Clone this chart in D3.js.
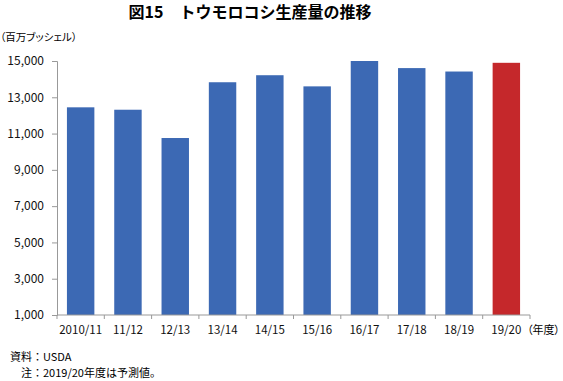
<!DOCTYPE html>
<html><head><meta charset="utf-8">
<script src="https://cdn.jsdelivr.net/npm/d3@7"></script>
<style>body{margin:0;background:#fff}svg{display:block}text{font-family:"Noto Sans CJK JP","Noto Sans",sans-serif}.p{font-feature-settings:"palt" 1}</style>
</head><body><div id="chart"></div>
<script>
const categories = ["2010/11","11/12","12/13","13/14","14/15","15/16","16/17","17/18","18/19","19/20"];
const values = [12447, 12314, 10755, 13829, 14216, 13602, 15148, 14609, 14420, 14900];
const forecast = [false,false,false,false,false,false,false,false,false,true];
const yTicks = [1000,3000,5000,7000,9000,11000,13000,15000];

const W=563,H=381;
const m={left:57,right:33,top:61,bottom:66};
const svg=d3.select("#chart").append("svg").attr("width",W).attr("height",H);
const x=d3.scaleBand().domain(categories).range([m.left,W-m.right]).paddingInner(0.42).paddingOuter(0.21);
const y=d3.scaleLinear().domain([1000,15000]).range([H-m.bottom,m.top]).clamp(true);

svg.append("text").attr("x",250).attr("y",18).attr("text-anchor","middle")
  .attr("font-size",16).attr("font-weight","bold").text("図15　トウモロコシ生産量の推移");
svg.append("text").attr("class","p").attr("x",0).attr("y",41).attr("font-size",10.5).text("（百万ブッシェル）");

svg.selectAll("rect.bar").data(categories).join("rect").attr("class","bar")
  .attr("x",d=>x(d)).attr("width",x.bandwidth())
  .attr("y",(d,i)=>y(values[i])).attr("height",(d,i)=>y(1000)-y(values[i]))
  .attr("fill",(d,i)=>forecast[i]?"#c5282b":"#3c69b4");

const ya=svg.append("g").attr("transform",`translate(${m.left},0)`)
  .call(d3.axisLeft(y).tickValues(yTicks).tickFormat(d3.format(",")).tickSize(5).tickPadding(8));
ya.selectAll("text").attr("font-size",12).attr("fill","#111");
ya.selectAll("line,path").attr("stroke","#999");

const xa=svg.append("g").attr("transform",`translate(0,${H-m.bottom})`);
xa.append("line").attr("x1",m.left).attr("x2",W-m.right).attr("stroke","#999");
const edges=d3.range(categories.length+1).map(i=>m.left+(W-m.left-m.right)*i/categories.length);
xa.selectAll("line.t").data(edges).join("line").attr("class","t")
  .attr("x1",d=>d).attr("x2",d=>d).attr("y1",0).attr("y2",4).attr("stroke","#999");
xa.selectAll("text").data(categories).join("text")
  .attr("x",d=>x(d)+x.bandwidth()/2).attr("y",19).attr("text-anchor","middle")
  .attr("font-size",11.5).attr("fill","#111").text(d=>d);
svg.append("text").attr("class","p").attr("x",527).attr("y",H-m.bottom+19).attr("font-size",11).text("（年度）");

svg.append("text").attr("x",10).attr("y",361).attr("font-size",11).text("資料：USDA");
svg.append("text").attr("x",10).attr("y",377).attr("font-size",11).text("　注：2019/20年度は予測値。");
</script></body></html>
